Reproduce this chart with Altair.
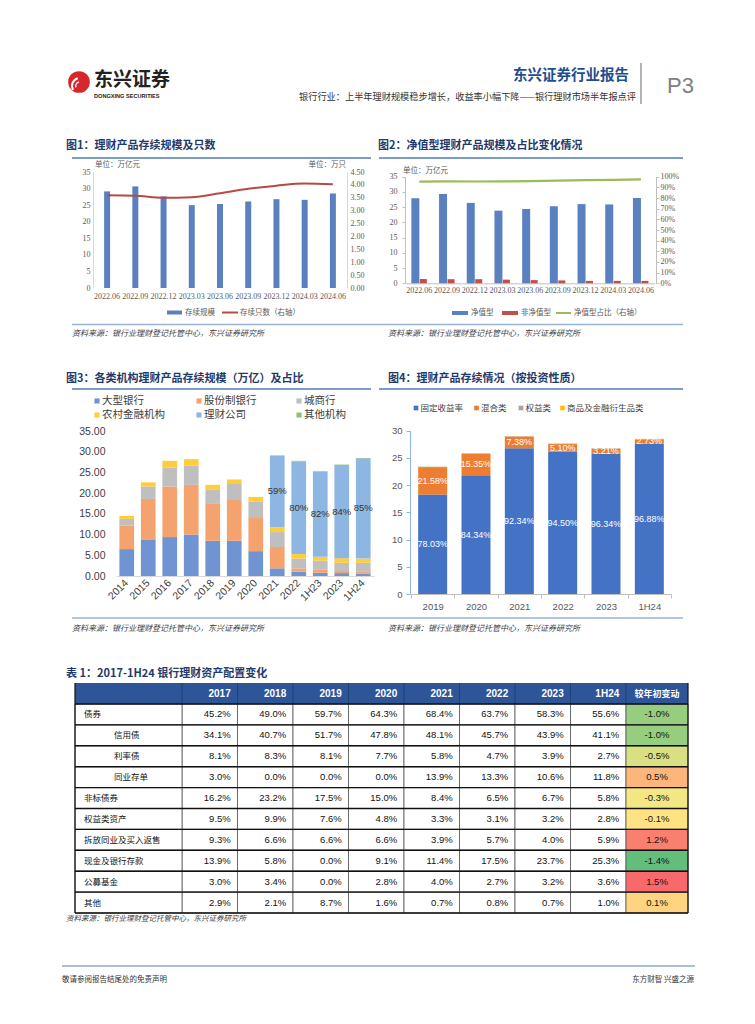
import altair as alt
import pandas as pd

W, H = 739, 1008


def X(v):
    return v - 8


def Y(v):
    return v - 8


ONE = alt.Data(values=[{"k": 0}])
CJK = "Noto Sans CJK SC"
SANS = "Liberation Sans"
SERIF = "Liberation Serif"
NAVY = "#1F3A6B"

# ---------------- data ----------------
F1_PERIODS = ["2022.06", "2022.09", "2022.12", "2023.03", "2023.06", "2023.09", "2023.12", "2024.03", "2024.06"]
F1_SCALE = [29.15, 30.65, 27.65, 25.0, 25.34, 26.1, 26.8, 26.6, 28.52]
F1_COUNT = [3.60, 3.58, 3.50, 3.52, 3.68, 3.85, 3.97, 4.05, 4.02]
F1_SERIES = ["存续规模", "存续只数（右轴）"]
F1_LEFT_TICKS = [0, 5, 10, 15, 20, 25, 30, 35]
F1_RIGHT_TICKS = [0.0, 0.5, 1.0, 1.5, 2.0, 2.5, 3.0, 3.5, 4.0, 4.5]

F2_PERIODS = ["2022.06", "2022.09", "2022.12", "2023.03", "2023.06", "2023.09", "2023.12", "2024.03", "2024.06"]
F2_NAV = [27.9, 29.3, 26.4, 23.85, 24.4, 25.3, 26.0, 25.9, 28.0]
F2_NONNAV = [1.4, 1.35, 1.35, 1.2, 1.05, 0.95, 0.8, 0.8, 0.8]
F2_RATIO = [0.953, 0.956, 0.955, 0.956, 0.959, 0.963, 0.968, 0.970, 0.975]
F2_SERIES = ["净值型", "非净值型", "净值型占比（右轴）"]
F2_LEFT_TICKS = [0, 5, 10, 15, 20, 25, 30, 35]
F2_RIGHT_TICKS = [0, 0.1, 0.2, 0.3, 0.4, 0.5, 0.6, 0.7, 0.8, 0.9, 1.0]

F3_YEARS = ["2014", "2015", "2016", "2017", "2018", "2019", "2020", "2021", "2022", "1H23", "2023", "1H24"]
F3_TYPES = ["大型银行", "股份制银行", "城商行", "农村金融机构", "理财公司", "其他机构"]
F3_BIG = [6.5, 8.7, 9.4, 10.0, 8.5, 8.5, 6.0, 1.85, 1.05, 0.8, 0.7, 0.6]
F3_JOINT = [5.65, 9.9, 12.2, 12.0, 8.9, 9.85, 8.0, 5.15, 0.8, 0.8, 0.5, 0.4]
F3_CITY = [1.65, 3.0, 4.6, 4.65, 3.5, 3.85, 3.95, 3.6, 2.35, 2.1, 2.0, 2.2]
F3_RURAL = [0.7, 1.0, 1.6, 1.55, 1.1, 1.1, 1.15, 1.15, 1.1, 0.95, 1.1, 1.0]
F3_WMC = [0, 0, 0, 0, 0, 0, 0, 17.3, 22.3, 20.55, 22.5, 24.2]
F3_OTHER = [0, 0, 0, 0, 0, 0, 0, 0.1, 0.2, 0.1, 0.1, 0.1]
F3_SHARE = ["", "", "", "", "", "", "", "59%", "80%", "82%", "84%", "85%"]
F3_TICKS = [0, 5, 10, 15, 20, 25, 30, 35]
F3_COLORS = ["#7094D2", "#F4A36E", "#BFBFBF", "#FFCC3A", "#8DB7E2", "#8CC36E"]

F4_YEARS = ["2019", "2020", "2021", "2022", "2023", "1H24"]
F4_TYPES = ["固定收益率", "混合类", "权益类", "商品及金融衍生品类"]
F4_TOTAL = [23.40, 25.86, 29.00, 27.65, 26.80, 28.52]
F4_FIXED = [78.03, 84.34, 92.34, 94.50, 96.34, 96.88]
F4_MIXED = [21.58, 15.35, 7.38, 5.10, 3.21, 2.73]
F4_EQUITY = [0.30, 0.24, 0.20, 0.30, 0.35, 0.30]
F4_COMMOD = [0.09, 0.07, 0.08, 0.10, 0.10, 0.09]
F4_TICKS = [0, 5, 10, 15, 20, 25, 30]
F4_COLORS = ["#4472C4", "#ED7D31", "#A5A5A5", "#FFC000"]

T_COLS = ["2017", "2018", "2019", "2020", "2021", "2022", "2023", "1H24"]
T_CHANGE_HEAD = "较年初变动"
T_ROWS = ["债券", "信用债", "利率债", "同业存单", "非标债券", "权益类资产",
          "拆放同业及买入返售", "现金及银行存款", "公募基金", "其他"]
T_SUB = [0, 1, 1, 1, 0, 0, 0, 0, 0, 0]
T_BOND = [45.2, 49.0, 59.7, 64.3, 68.4, 63.7, 58.3, 55.6]
T_CREDIT = [34.1, 40.7, 51.7, 47.8, 48.1, 45.7, 43.9, 41.1]
T_RATE = [8.1, 8.3, 8.1, 7.7, 5.8, 4.7, 3.9, 2.7]
T_NCD = [3.0, 0.0, 0.0, 0.0, 13.9, 13.3, 10.6, 11.8]
T_NONSTD = [16.2, 23.2, 17.5, 15.0, 8.4, 6.5, 6.7, 5.8]
T_EQUITY = [9.5, 9.9, 7.6, 4.8, 3.3, 3.1, 3.2, 2.8]
T_REPO = [9.3, 6.6, 6.6, 6.6, 3.9, 5.7, 4.0, 5.9]
T_CASH = [13.9, 5.8, 0.0, 9.1, 11.4, 17.5, 23.7, 25.3]
T_FUND = [3.0, 3.4, 0.0, 2.8, 4.0, 2.7, 3.2, 3.6]
T_OTHER = [2.9, 2.1, 8.7, 1.6, 0.7, 0.8, 0.7, 1.0]
T_CHANGE = [-1.0, -1.0, -0.5, 0.5, -0.3, -0.1, 1.2, -1.4, 1.5, 0.1]

SOURCE = "资料来源：银行业理财登记托管中心，东兴证券研究所"

# ---------------- helpers ----------------
layers = []


def T(s, x, y, size=9, color="#000", weight="normal", align="left", font=CJK, italic=False, baseline="middle"):
    kw = dict(fontSize=size, color=color, fontWeight=weight, align=align, font=font, baseline=baseline)
    if italic:
        kw["fontStyle"] = "italic"
    return alt.Chart(ONE).mark_text(**kw).encode(x=alt.value(X(x)), y=alt.value(Y(y)), text=alt.value(s))


def hrule(x1, x2, y, color, width=1.0):
    return alt.Chart(ONE).mark_rule(color=color, strokeWidth=width).encode(
        x=alt.value(X(x1)), x2=alt.value(X(x2)), y=alt.value(Y(y)))


def vrule(x, y1, y2, color, width=1.0):
    return alt.Chart(ONE).mark_rule(color=color, strokeWidth=width).encode(
        x=alt.value(X(x)), y=alt.value(Y(y1)), y2=alt.value(Y(y2)))


def box(x1, x2, y1, y2, color):
    return alt.Chart(ONE).mark_rect(color=color).encode(
        x=alt.value(X(x1)), x2=alt.value(X(x2)), y=alt.value(Y(y1)), y2=alt.value(Y(y2)))


def sq(x, y, color, size=28):
    return alt.Chart(ONE).mark_square(size=size, color=color, opacity=1).encode(
        x=alt.value(X(x)), y=alt.value(Y(y)))


def axis(orient, pos, **kw):
    if orient == "left":
        off = -X(pos)
    elif orient == "right":
        off = X(pos) - W
    else:
        off = Y(pos) - H
    base = dict(orient=orient, offset=off, title=None, grid=False)
    base.update(kw)
    return alt.Axis(**base)


# ---------------- page header ----------------
layers.append(alt.Chart(ONE).mark_circle(size=470, color="#D7262E", opacity=1).encode(
    x=alt.value(X(79)), y=alt.value(Y(82))))
layers.append(alt.Chart(ONE).mark_arc(color="white", radius=9, radius2=7, theta=4.2, theta2=6.0).encode(
    x=alt.value(X(80)), y=alt.value(Y(86))))
layers.append(alt.Chart(ONE).mark_arc(color="white", radius=5, radius2=3.5, theta=4.4, theta2=6.0).encode(
    x=alt.value(X(80)), y=alt.value(Y(86))))
layers.append(T("东兴证券", 94, 80, size=19, weight="bold", color="#222"))
layers.append(T("DONGXING SECURITIES", 94, 96, size=5.6, weight="bold", color="#222", font=SANS))
layers.append(T("东兴证券行业报告", 629, 76, size=14.5, weight="bold", color="#1F4E8C", align="right"))
layers.append(T("银行行业：上半年理财规模稳步增长，收益率小幅下降——银行理财市场半年报点评", 636, 97,
                size=9.2, color="#333", align="right"))
layers.append(vrule(641, 63, 104, "#9A9A9A", 1.5))
layers.append(T("P3", 667, 86, size=22, color="#7F7F7F", font=SANS))

# ---------------- figure titles & rules ----------------
layers.append(T("图1：理财产品存续规模及只数", 66, 146, size=11, weight="bold", color=NAVY))
layers.append(T("图2：净值型理财产品规模及占比变化情况", 378, 146, size=11, weight="bold", color=NAVY))
layers.append(hrule(72, 371, 158, "#7B9CC4", 2))
layers.append(hrule(379, 683, 158, "#7B9CC4", 2))
layers.append(hrule(72, 683, 324.5, "#9AB3D2", 1.5))
layers.append(T(SOURCE, 72, 334, size=8, color="#404040", italic=True))
layers.append(T(SOURCE, 388, 334, size=8, color="#404040", italic=True))

layers.append(T("图3：各类机构理财产品存续规模（万亿）及占比", 66, 379, size=11, weight="bold", color=NAVY))
layers.append(T("图4：理财产品存续情况（按投资性质）", 388, 379, size=11, weight="bold", color=NAVY))
layers.append(hrule(72, 371, 389, "#7B9CC4", 2))
layers.append(hrule(379, 683, 389, "#7B9CC4", 2))
layers.append(hrule(72, 683, 618, "#9AB3D2", 1.5))
layers.append(T(SOURCE, 72, 629, size=8, color="#404040", italic=True))
layers.append(T(SOURCE, 388, 629, size=8, color="#404040", italic=True))

# ---------------- figure 1 ----------------
BLUE1 = "#5B80BF"
RED1 = "#B94A42"
lab1 = dict(labelFont=SERIF, labelFontSize=8, labelColor="#595959")
f1 = pd.DataFrame({"p": F1_PERIODS, "v": F1_SCALE, "n": F1_COUNT})
f1x = alt.Scale(domain=F1_PERIODS, range=[X(93), X(347)], paddingInner=0, paddingOuter=0)
f1yl = alt.Scale(domain=[0, 35], range=[Y(288), Y(172)], nice=False, zero=True)
f1yr = alt.Scale(domain=[0, 4.5], range=[Y(288), Y(172)], nice=False, zero=True)
layers.append(alt.Chart(f1).mark_bar(width=6, color=BLUE1).encode(
    x=alt.X("p:N", scale=f1x, axis=axis("bottom", 288, domain=False, ticks=False, labelAngle=0,
                                        labelPadding=4, labelOverlap=False, **lab1)),
    y=alt.Y("v:Q", scale=f1yl, axis=axis("left", 93, values=F1_LEFT_TICKS, domainColor="#D9D9D9",
                                         ticks=False, labelPadding=3, **lab1))))
layers.append(alt.Chart(f1).mark_line(color=RED1, strokeWidth=2, interpolate="monotone").encode(
    x=alt.X("p:N", scale=f1x, axis=None),
    y=alt.Y("n:Q", scale=f1yr, axis=axis("right", 347, values=F1_RIGHT_TICKS, format=".2f",
                                         domainColor="#D9D9D9", ticks=False, labelPadding=3, **lab1))))
layers.append(T("单位：万亿元", 95, 165, size=7.5, color="#595959"))
layers.append(T("单位：万只", 346, 165, size=7.5, color="#595959", align="right"))
layers.append(box(167, 182, 310.5, 314.5, BLUE1))
layers.append(T(F1_SERIES[0], 185, 312.5, size=7.5, color="#595959"))
layers.append(hrule(222, 238, 312.5, RED1, 2))
layers.append(T(F1_SERIES[1], 240, 312.5, size=7.5, color="#595959"))

# ---------------- figure 2 ----------------
BLUE2 = "#5B80BF"
RED2 = "#C0504D"
GREEN2 = "#9BBB59"
f2 = pd.DataFrame({"p": F2_PERIODS, "nav": F2_NAV, "non": F2_NONNAV, "r": F2_RATIO})
f2x = alt.Scale(domain=F2_PERIODS, range=[X(405.5), X(654.8)], paddingInner=0, paddingOuter=0)
f2yl = alt.Scale(domain=[0, 35], range=[Y(283.3), Y(176.7)], nice=False, zero=True)
f2yr = alt.Scale(domain=[0, 1], range=[Y(283.3), Y(176.7)], nice=False, zero=True)
layers.append(alt.Chart(f2).mark_bar(width=8, xOffset=-4, color=BLUE2).encode(
    x=alt.X("p:N", scale=f2x, axis=axis("bottom", 283.3, domainColor="#BFBFBF", ticks=False, labelAngle=0,
                                        labelPadding=3, labelOverlap=False, **lab1)),
    y=alt.Y("nav:Q", scale=f2yl, axis=axis("left", 405, values=F2_LEFT_TICKS, domainColor="#BFBFBF",
                                           tickColor="#BFBFBF", tickSize=3, labelPadding=5, **lab1))))
layers.append(alt.Chart(f2).mark_bar(width=7, xOffset=4, color=RED2).encode(
    x=alt.X("p:N", scale=f2x, axis=None),
    y=alt.Y("non:Q", scale=f2yl, axis=None)))
layers.append(alt.Chart(f2).mark_line(color=GREEN2, strokeWidth=2.2).encode(
    x=alt.X("p:N", scale=f2x, axis=None),
    y=alt.Y("r:Q", scale=f2yr, axis=axis("right", 656, values=F2_RIGHT_TICKS, format=".0%",
                                         domainColor="#BFBFBF", tickColor="#BFBFBF", tickSize=3,
                                         labelPadding=1, **lab1))))
layers.append(T("单位：万亿元", 403, 170.5, size=7.5, color="#595959"))
layers.append(box(452, 468, 311, 315, BLUE2))
layers.append(T(F2_SERIES[0], 471, 313, size=7.5, color="#595959"))
layers.append(box(502, 518, 311, 315, RED2))
layers.append(T(F2_SERIES[1], 521, 313, size=7.5, color="#595959"))
layers.append(hrule(556, 571, 313, GREEN2, 2))
layers.append(T(F2_SERIES[2], 574, 313, size=7.5, color="#595959"))

# ---------------- figure 3 ----------------
lab3 = dict(labelFont=SANS, labelFontSize=10.5, labelColor="#404040")
rec3 = []
f3_arrays = [F3_BIG, F3_JOINT, F3_CITY, F3_RURAL, F3_WMC, F3_OTHER]
for i, yr in enumerate(F3_YEARS):
    for k, name in enumerate(F3_TYPES):
        rec3.append({"year": yr, "type": name, "v": f3_arrays[k][i], "k": k})
f3 = pd.DataFrame(rec3)
f3x = alt.Scale(domain=F3_YEARS, range=[X(116), X(374)], paddingInner=0, paddingOuter=0)
f3y = alt.Scale(domain=[0, 35], range=[Y(576), Y(431)], nice=False, zero=True)
layers.append(alt.Chart(f3).mark_bar(width=14.7).encode(
    x=alt.X("year:N", scale=f3x, axis=axis("bottom", 576, domainColor="#D9D9D9", ticks=False, labelAngle=-45,
                                           labelAlign="right", labelBaseline="middle", labelPadding=5,
                                           labelOverlap=False, **lab3)),
    y=alt.Y("v:Q", stack="zero", scale=f3y,
            axis=axis("left", 113, values=F3_TICKS, format=".2f", domain=False, ticks=False, labelPadding=8,
                      labelFont=SANS, labelFontSize=10.5, labelColor="#404040")),
    color=alt.Color("type:N", scale=alt.Scale(domain=F3_TYPES, range=F3_COLORS), legend=None),
    order=alt.Order("k:Q")))
mid3 = [F3_BIG[i] + F3_JOINT[i] + F3_CITY[i] + F3_RURAL[i] + F3_WMC[i] / 2 for i in range(len(F3_YEARS))]
f3l = pd.DataFrame({"year": F3_YEARS, "lab": F3_SHARE, "mid": mid3})
f3l = f3l[f3l["lab"] != ""]
layers.append(alt.Chart(f3l).mark_text(font=SANS, fontSize=9.5, color="#333").encode(
    x=alt.X("year:N", scale=f3x, axis=None),
    y=alt.Y("mid:Q", scale=f3y, axis=None),
    text="lab:N"))
leg3_x = [97, 199, 299]
for idx, name in enumerate(F3_TYPES):
    lx = leg3_x[idx % 3]
    ly = 401 if idx < 3 else 415
    layers.append(sq(lx, ly, F3_COLORS[idx], 26))
    layers.append(T(name, lx + 5, ly, size=10.5, color="#404040"))

# ---------------- figure 4 ----------------
lab4 = dict(labelFont=SANS, labelFontSize=9.5, labelColor="#595959")
rec4 = []
f4_arrays = [F4_FIXED, F4_MIXED, F4_EQUITY, F4_COMMOD]
for i, yr in enumerate(F4_YEARS):
    for k, name in enumerate(F4_TYPES):
        rec4.append({"year": yr, "type": name, "v": F4_TOTAL[i] * f4_arrays[k][i] / 100, "k": k})
f4 = pd.DataFrame(rec4)
f4x = alt.Scale(domain=F4_YEARS, range=[X(411), X(671)], paddingInner=0, paddingOuter=0)
f4y = alt.Scale(domain=[0, 30], range=[Y(594), Y(430.7)], nice=False, zero=True)
layers.append(alt.Chart(f4).mark_bar(width=29).encode(
    x=alt.X("year:N", scale=f4x, axis=axis("bottom", 594, domainColor="#BFBFBF", tickColor="#BFBFBF",
                                           tickSize=4, tickBand="extent", labelAngle=0, labelPadding=3,
                                           labelOverlap=False, **lab4)),
    y=alt.Y("v:Q", stack="zero", scale=f4y,
            axis=axis("left", 410, values=F4_TICKS, domainColor="#8FB4E3", tickColor="#8FB4E3",
                      tickSize=4, labelPadding=4, **lab4)),
    color=alt.Color("type:N", scale=alt.Scale(domain=F4_TYPES, range=F4_COLORS), legend=None),
    order=alt.Order("k:Q")))
rows4 = []
for i, yr in enumerate(F4_YEARS):
    rows4.append({"year": yr, "lab": f"{F4_FIXED[i]:.2f}%", "mid": F4_TOTAL[i] * F4_FIXED[i] / 200})
    rows4.append({"year": yr, "lab": f"{F4_MIXED[i]:.2f}%",
                  "mid": F4_TOTAL[i] * (F4_FIXED[i] + F4_MIXED[i] / 2) / 100})
f4l = pd.DataFrame(rows4)
layers.append(alt.Chart(f4l).mark_text(font=SANS, fontSize=9, color="white").encode(
    x=alt.X("year:N", scale=f4x, axis=None),
    y=alt.Y("mid:Q", scale=f4y, axis=None),
    text="lab:N"))
leg4_x = [416, 476.5, 521, 562.5]
for idx, name in enumerate(F4_TYPES):
    layers.append(sq(leg4_x[idx], 408, F4_COLORS[idx], 22))
    layers.append(T(name, leg4_x[idx] + 4.5, 408, size=8.5, color="#404040"))

# ---------------- table ----------------
layers.append(T("表 1：2017-1H24 银行理财资产配置变化", 66, 674, size=11, weight="bold", color=NAVY))
T_LEFT, T_C1, T_C9, T_RIGHT = 75, 182, 626, 688
T_TOP, T_HB, T_BOT = 683, 704, 913
HEAD_BLUE = "#2E5597"
t_arrays = [T_BOND, T_CREDIT, T_RATE, T_NCD, T_NONSTD, T_EQUITY, T_REPO, T_CASH, T_FUND, T_OTHER]
cells = pd.DataFrame([{"row": r, "col": c, "lab": f"{t_arrays[i][j]:.1f}%"}
                      for i, r in enumerate(T_ROWS) for j, c in enumerate(T_COLS)])
rows_df = pd.DataFrame({"row": T_ROWS, "sub": T_SUB, "chg": T_CHANGE,
                        "chg_lab": [f"{c:.1f}%" for c in T_CHANGE]})
cols_df = pd.DataFrame({"col": T_COLS})
tx = alt.Scale(domain=T_COLS, range=[X(T_C1), X(T_C9)], paddingInner=0, paddingOuter=0)
ty = alt.Scale(domain=T_ROWS, range=[Y(T_HB), Y(T_BOT)], paddingInner=0, paddingOuter=0)

layers.append(box(T_LEFT, T_RIGHT, T_TOP, T_HB, HEAD_BLUE))
layers.append(alt.Chart(cols_df).mark_rule(color="#1E3F78", strokeWidth=1).encode(
    x=alt.X("col:N", scale=tx, bandPosition=0, axis=None),
    y=alt.value(Y(T_TOP)), y2=alt.value(Y(T_HB))))
layers.append(vrule(T_C9, T_TOP, T_HB, "#1E3F78", 1))
layers.append(alt.Chart(cols_df).mark_text(font=SANS, fontSize=10, fontWeight="bold", color="white",
                                           align="right", dx=21).encode(
    x=alt.X("col:N", scale=tx, axis=None), y=alt.value(Y(693.5)), text="col:N"))
layers.append(T(T_CHANGE_HEAD, 657, 693.5, size=9, color="white", weight="bold", align="center"))

layers.append(alt.Chart(cells).mark_rect(fill="white", stroke="#555555", strokeWidth=0.8).encode(
    x=alt.X("col:N", scale=tx, axis=None), y=alt.Y("row:N", scale=ty, axis=None)))
layers.append(alt.Chart(rows_df).mark_rect(fill="white", stroke="#555555", strokeWidth=0.8).encode(
    x=alt.value(X(T_LEFT)), x2=alt.value(X(T_C1)), y=alt.Y("row:N", scale=ty, axis=None)))
layers.append(alt.Chart(rows_df).mark_rect(stroke="#555555", strokeWidth=0.8).encode(
    x=alt.value(X(T_C9)), x2=alt.value(X(T_RIGHT)), y=alt.Y("row:N", scale=ty, axis=None),
    color=alt.Color("chg:Q", scale=alt.Scale(domain=[-1.4, -0.2, 1.5],
                                             range=["#63BE7B", "#FFEB84", "#F8696B"],
                                             interpolate="rgb"), legend=None)))
layers.append(alt.Chart(cells).mark_text(font=SANS, fontSize=9.5, color="#111", align="right", dx=21).encode(
    x=alt.X("col:N", scale=tx, axis=None), y=alt.Y("row:N", scale=ty, axis=None), text="lab:N"))
layers.append(alt.Chart(rows_df).mark_text(font=SANS, fontSize=9.5, color="#111", align="center").encode(
    x=alt.value(X(657)), y=alt.Y("row:N", scale=ty, axis=None), text="chg_lab:N"))
layers.append(alt.Chart(rows_df).transform_filter("datum.sub == 0").mark_text(
    font=CJK, fontSize=8.5, color="#111", align="left").encode(
    x=alt.value(X(84)), y=alt.Y("row:N", scale=ty, axis=None), text="row:N"))
layers.append(alt.Chart(rows_df).transform_filter("datum.sub == 1").mark_text(
    font=CJK, fontSize=8.5, color="#111", align="left").encode(
    x=alt.value(X(114)), y=alt.Y("row:N", scale=ty, axis=None), text="row:N"))
layers.append(alt.Chart(rows_df).mark_rule(color="#111", strokeWidth=1.4).encode(
    x=alt.value(X(T_LEFT)), x2=alt.value(X(T_RIGHT)),
    y=alt.Y("row:N", scale=ty, bandPosition=0, axis=None)))
layers.append(hrule(T_LEFT, T_RIGHT, T_BOT, "#111", 1.4))
layers.append(vrule(T_LEFT, T_TOP, T_BOT, "#111", 1.2))
layers.append(vrule(T_RIGHT, T_TOP, T_BOT, "#111", 1.2))
layers.append(T(SOURCE, 66, 919, size=7.5, color="#404040", italic=True))

# ---------------- footer ----------------
layers.append(hrule(62, 695, 966, "#8EAACB", 1.5))
layers.append(T("敬请参阅报告结尾处的免责声明", 62, 980, size=7.5, color="#333"))
layers.append(T("东方财智 兴盛之源", 694, 980, size=7.5, color="#333", align="right"))

chart = alt.layer(*layers).resolve_scale(
    x="independent", y="independent", color="independent"
).properties(width=W, height=H, padding=0, autosize="none").configure_view(stroke=None)

chart.save("out.html", embed_options={"renderer": "svg", "actions": False})
